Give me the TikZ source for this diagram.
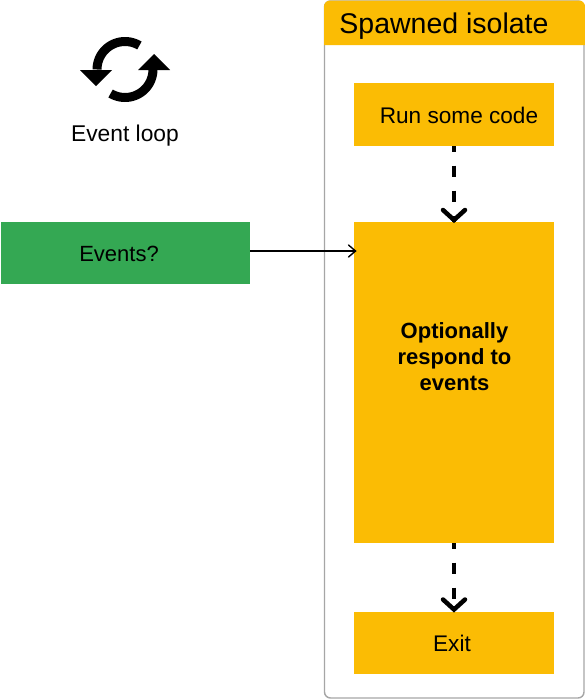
\documentclass[tikz,border=0pt]{standalone}
\usepackage{fontspec}
\setmainfont{Liberation Sans}
\usetikzlibrary{arrows.meta}
\definecolor{amber}{HTML}{FBBC04}
\definecolor{leaf}{HTML}{34A853}
\definecolor{framegray}{HTML}{A6A6A6}
\tikzset{
  x=1pt,y=-1pt,
  box/.style={fill=#1,draw=none,inner sep=0pt,outer sep=0pt,anchor=north west},
  lab/.style={inner sep=0pt,font=\fontsize{#1}{#1}\selectfont,text=black,anchor=base},
  flow/.style={line width=4.5pt,dash pattern=on 11.5pt off 13.5pt,dash phase=5.5pt},
  chevron/.style={line width=4.5pt,line cap=round,line join=miter},
  thinflow/.style={line width=1.4pt,black},
  thinchevron/.style={line width=1.4pt,line cap=round,line join=miter},
  loop/.style={line width=9pt,black},
  tip/.style={fill=black,draw=none},
}
\begin{document}
\begin{tikzpicture}
\useasboundingbox (0,0) rectangle (585,699);
% frame
\draw[framegray,line width=1.4pt,rounded corners=6pt,fill=white] (324.5,1) rectangle (584,698);
\fill[amber] (324,45) [rounded corners=6pt] -- (324,0.5) -- (585,0.5) [sharp corners] -- (585,45) -- cycle;
\node[lab=28.5] (title) at (444,33) {Spawned isolate};
% boxes
\node[box=amber,minimum width=200pt,minimum height=63pt] (run) at (354,83) {};
\node[box=amber,minimum width=200pt,minimum height=321pt] (respond) at (354,222) {};
\node[box=amber,minimum width=200pt,minimum height=62.5pt] (exit) at (354,611.5) {};
\node[box=leaf,minimum width=249pt,minimum height=62.5pt] (events) at (1,221.5) {};
\node[lab=22.6] (runlab) at (459,123) {Run some code};
\node[lab=22.6] (exitlab) at (452,651) {Exit};
\node[lab=22] (eventslab) at (119,261) {Events?};
\node[lab=22.8] (looplab) at (125,141) {Event loop};
\node[inner sep=0pt,align=center,font=\fontsize{22}{26}\selectfont\bfseries] (resplab) at (454.5,357) {Optionally\\respond to\\events};
% connectors
\draw[flow] (run.south) -- (respond.north);
\draw[chevron] ([shift={(-11,-12)}]respond.north) -- ([shift={(0,-2)}]respond.north) -- ([shift={(11,-12)}]respond.north);
\draw[flow] (respond.south) -- (exit.north);
\draw[chevron] ([shift={(-11,-12)}]exit.north) -- ([shift={(0,-2)}]exit.north) -- ([shift={(11,-12)}]exit.north);
\coordinate (evstart) at (250,251);
\coordinate (evend) at (355.5,251);
\draw[thinflow] (evstart) -- (evend);
\draw[thinchevron] ([shift={(-7,-6)}]evend) -- (evend) -- ([shift={(-7,6)}]evend);
% icon
\draw[loop] plot[smooth,domain=59:180,samples=25] ({125+28*cos(\x)},{69.5-28*sin(\x)});
\draw[loop] plot[smooth,domain=239:360,samples=25] ({125+28*cos(\x)},{69.5-28*sin(\x)});
\fill[tip] (80,70) -- (112,70) -- (96,86) -- cycle;
\fill[tip] (138,70) -- (170,70) -- (154,54) -- cycle;
\end{tikzpicture}
\end{document}
